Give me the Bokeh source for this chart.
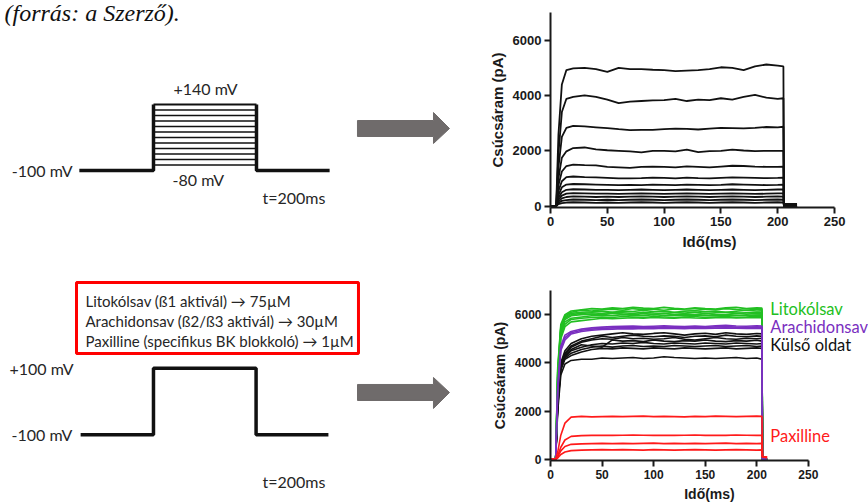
from bokeh.plotting import figure
from bokeh.layouts import row, column
from bokeh.models import Range1d, FixedTicker, BoxAnnotation, ColumnDataSource
from bokeh.core.properties import value
from bokeh.embed import file_html
from bokeh.resources import INLINE

# ---------------- data ----------------
# voltage protocols (ms, mV)
HOLD_MV = -100
TOP_STEPS_MV = [-80, -60, -40, -20, 0, 20, 40, 60, 80, 100, 120, 140]
BOT_STEP_MV = 100
T_ON, T_OFF = 0, 200
TOP_T_PRE, TOP_T_POST = -144, 342
BOT_T_PRE, BOT_T_POST = -142, 341

# top current plot: time (ms) and traces (pA), one per step voltage
T_TOP = [0, 5, 7, 10, 14, 20, 30, 40, 50, 60, 70, 80, 90, 100, 110, 120, 130,
         140, 150, 160, 170, 180, 190, 200, 205, 205.5, 217]
I_P140 = [0, 0, 2600, 4400, 4920, 4980, 5000, 4950, 4850, 5000, 4950, 4950, 4930, 4920, 4880, 4900, 4920,
          4950, 5020, 5000, 4920, 5050, 5120, 5080, 5050, 80, 80]
I_P120 = [0, 0, 1900, 3400, 3880, 3950, 4000, 3950, 3850, 3720, 3780, 3800, 3820, 3830, 3880, 3800, 3850,
          3830, 3900, 3850, 3950, 4020, 3920, 3880, 3900, 60, 60]
I_P100 = [0, 0, 1400, 2500, 2830, 2900, 2880, 2850, 2820, 2780, 2750, 2760, 2760, 2780, 2800, 2790, 2770,
          2800, 2830, 2820, 2810, 2830, 2860, 2850, 2870, 40, 40]
I_P80 = [0, 0, 1000, 1750, 1980, 2100, 2120, 2050, 2020, 2000, 1980, 1940, 2000, 2000, 1980, 2040, 1950,
         1990, 2000, 2040, 2010, 1990, 2000, 2000, 2000, 20, 20]
I_P60 = [0, 0, 750, 1250, 1450, 1500, 1480, 1470, 1420, 1400, 1380, 1420, 1430, 1420, 1400, 1440, 1420,
         1400, 1430, 1460, 1450, 1430, 1420, 1420, 1430, 0, 0]
I_P40 = [0, 0, 550, 900, 1050, 1070, 1050, 1040, 1020, 1000, 1000, 1010, 1030, 1020, 1000, 1030, 1010,
         1000, 1020, 1040, 1030, 1020, 1010, 1020, 1030, 0, 0]
I_P20 = [0, 0, 400, 680, 780, 800, 790, 780, 770, 760, 770, 760, 780, 770, 760, 780, 770,
         760, 770, 790, 780, 770, 760, 770, 780, 0, 0]
I_0 = [0, 0, 300, 500, 590, 610, 600, 590, 590, 580, 590, 600, 590, 580, 590, 600, 590,
       580, 590, 600, 590, 580, 590, 600, 600, 0, 0]
I_M20 = [0, 0, 230, 380, 450, 470, 460, 450, 450, 440, 450, 460, 450, 440, 450, 460, 450,
         440, 450, 460, 450, 440, 450, 460, 460, 0, 0]
I_M40 = [0, 0, 170, 280, 330, 350, 340, 330, 340, 330, 340, 350, 340, 330, 340, 350, 340,
         330, 340, 350, 340, 330, 340, 350, 340, 0, 0]
I_M60 = [0, 0, 120, 190, 220, 240, 230, 220, 230, 220, 230, 240, 230, 220, 230, 240, 230,
         220, 230, 240, 230, 220, 230, 240, 230, 0, 0]
I_M80 = [0, 0, 70, 110, 130, 140, 130, 120, 130, 120, 130, 140, 130, 120, 130, 140, 130,
         120, 130, 140, 130, 120, 130, 140, 130, 0, 0]

# bottom current plot (+100 mV), per condition
T_BOT = [0, 5, 7, 10, 14, 20, 30, 40, 50, 60, 70, 80, 90, 100, 110, 120, 130,
         140, 150, 160, 170, 180, 190, 200, 205, 205.5, 210]
LITO = [
    [0, 0, 3800, 5600, 6000, 6150, 6200, 6250, 6230, 6280, 6250, 6300, 6270, 6250, 6300, 6260, 6230, 6280, 6250, 6230, 6280, 6300, 6250, 6280, 6270, 0, 0],
    [0, 0, 3700, 5500, 5950, 6100, 6180, 6150, 6200, 6220, 6180, 6250, 6200, 6220, 6180, 6230, 6200, 6180, 6220, 6200, 6250, 6210, 6180, 6230, 6220, 0, 0],
    [0, 0, 3600, 5450, 5900, 6050, 6100, 6120, 6150, 6100, 6150, 6130, 6180, 6120, 6150, 6100, 6140, 6160, 6120, 6150, 6100, 6140, 6180, 6150, 6160, 0, 0],
    [0, 0, 3500, 5400, 5850, 6000, 6050, 6080, 6050, 6100, 6080, 6050, 6100, 6070, 6050, 6090, 6060, 6100, 6050, 6080, 6100, 6060, 6080, 6100, 6090, 0, 0],
    [0, 0, 3400, 5300, 5800, 5950, 6000, 6020, 6000, 6050, 6020, 6000, 6040, 6010, 6050, 6000, 6030, 6000, 6040, 6010, 6000, 6050, 6020, 6040, 6030, 0, 0],
    [0, 0, 3300, 5200, 5700, 5850, 5900, 5950, 5980, 5950, 6000, 5970, 5950, 6000, 5960, 5980, 5950, 5990, 5960, 5950, 5990, 5970, 5950, 5980, 5990, 0, 0],
    [0, 0, 3200, 5100, 5600, 5800, 5850, 5880, 5900, 5880, 5920, 5900, 5880, 5920, 5900, 5880, 5900, 5920, 5880, 5900, 5920, 5890, 5900, 5930, 5920, 0, 0],
    [0, 0, 3000, 5000, 5500, 5700, 5750, 5800, 5850, 5830, 5850, 5870, 5850, 5880, 5860, 5850, 5880, 5860, 5850, 5870, 5880, 5860, 5870, 5880, 5870, 0, 0],
]
ARACH = [
    [0, 0, 3000, 4700, 5150, 5300, 5400, 5450, 5480, 5500, 5520, 5530, 5500, 5520, 5540, 5520, 5500, 5530, 5510, 5540, 5560, 5530, 5520, 5540, 5530, 0, 0],
    [0, 0, 2900, 4600, 5050, 5250, 5350, 5400, 5430, 5450, 5470, 5460, 5480, 5470, 5490, 5480, 5460, 5480, 5470, 5490, 5500, 5480, 5470, 5490, 5480, 0, 0],
    [0, 0, 2800, 4500, 4950, 5200, 5300, 5350, 5380, 5400, 5420, 5410, 5430, 5420, 5440, 5430, 5420, 5440, 5430, 5440, 5450, 5440, 5430, 5440, 5430, 0, 0],
]
KULSO = [
    [0, 0, 2500, 4000, 4500, 4800, 5000, 5100, 5150, 5200, 5250, 5200, 5180, 5220, 5250, 5200, 5150, 5200, 5230, 5180, 5250, 5200, 5180, 5220, 5200, 0, 0],
    [0, 0, 2450, 3950, 4400, 4700, 4900, 5000, 5100, 5050, 5100, 5150, 5100, 5080, 5120, 5100, 5050, 5100, 5120, 5080, 5150, 5100, 5080, 5120, 5100, 0, 0],
    [0, 0, 2400, 3900, 4350, 4650, 4850, 4950, 5000, 4980, 5050, 5000, 5020, 4980, 5000, 5050, 4980, 4950, 5000, 5050, 5000, 4980, 5020, 5000, 5020, 0, 0],
    [0, 0, 2350, 3850, 4300, 4550, 4750, 4700, 4650, 4950, 4900, 4920, 4880, 4950, 4900, 4880, 4920, 4900, 4950, 4900, 4880, 4920, 4900, 4940, 4900, 0, 0],
    [0, 0, 2300, 3800, 4250, 4500, 4650, 4750, 4800, 4780, 4820, 4800, 4850, 4800, 4780, 4820, 4800, 4780, 4820, 4800, 4780, 4820, 4800, 4780, 4800, 0, 0],
    [0, 0, 2250, 3750, 4200, 4400, 4550, 4650, 4700, 4650, 4700, 4720, 4680, 4700, 4680, 4720, 4700, 4680, 4700, 4720, 4680, 4700, 4720, 4680, 4700, 0, 0],
    [0, 0, 2200, 3700, 4150, 4300, 4450, 4550, 4600, 4580, 4620, 4600, 4580, 4620, 4600, 4580, 4620, 4600, 4580, 4600, 4620, 4580, 4600, 4620, 4600, 0, 0],
    [0, 0, 2000, 3500, 3950, 4100, 4150, 4150, 4200, 4180, 4200, 4220, 4180, 4200, 4250, 4220, 4200, 4180, 4200, 4180, 4200, 4220, 4180, 4200, 4150, 0, 0],
]
PAXI = [
    [0, 0, 300, 1000, 1500, 1750, 1780, 1760, 1770, 1780, 1770, 1780, 1790, 1770, 1780, 1770, 1760, 1780, 1770, 1790, 1780, 1770, 1780, 1790, 1780, 100, 80],
    [0, 0, 150, 500, 800, 950, 980, 990, 1000, 990, 1000, 1010, 1000, 990, 1000, 990, 1000, 1010, 990, 1000, 990, 1010, 1000, 990, 1000, 100, 80],
    [0, 0, 100, 350, 530, 620, 640, 650, 660, 650, 660, 650, 660, 670, 650, 660, 650, 660, 650, 660, 670, 650, 660, 650, 660, 100, 80],
    [0, 0, 50, 200, 300, 360, 380, 390, 400, 390, 400, 390, 380, 400, 390, 380, 390, 400, 390, 380, 390, 400, 390, 380, 390, 100, 80],
]

X_TICKS = [0, 50, 100, 150, 200, 250]
Y_TICKS = [0, 2000, 4000, 6000]
COND_LABELS = ["Litokólsav", "Arachidonsav", "Külső oldat", "Paxilline"]
COND_LABEL_Y = [6214, 5490, 4760, 970]
COND_COLORS = ["#22bf22", "#7a2fc0", "#111111", "#ff1a1a"]

BOX_LINES = ["Litokólsav (ß1 aktivál) \u2192 75\u00b5M",
             "Arachidonsav (ß2/ß3 aktivál) \u2192 30\u00b5M",
             "Paxilline (specifikus BK blokkoló) \u2192 1\u00b5M"]

TXT = "#262626"
ARROW_GREY = "#6f6b6b"
FONT = value("Lato")

# ---------------- top-left: step protocol ----------------
tl = figure(width=485, height=252, output_backend="svg", toolbar_location=None,
            x_range=Range1d(-297.1, 644.7), y_range=Range1d(-398.2, 518.2),
            x_axis_location=None, y_axis_location=None,
            min_border=0, outline_line_color=None)
tl.xgrid.visible = False
tl.ygrid.visible = False

for lv in TOP_STEPS_MV:
    tl.line([T_ON, T_OFF], [lv, lv], line_color="#111111",
            line_width=2.2 if lv == max(TOP_STEPS_MV) else 1.3)
tl.line([TOP_T_PRE, T_ON, T_ON], [HOLD_MV, HOLD_MV, max(TOP_STEPS_MV)], line_color="#111111", line_width=3.5)
tl.line([T_OFF, T_OFF, TOP_T_POST], [max(TOP_STEPS_MV), HOLD_MV, HOLD_MV], line_color="#111111", line_width=3.5)

tl.text(x=[101], y=[198], text=["+140 mV"], text_font=FONT, text_font_size="16px",
        text_color=TXT, text_align="center", text_baseline="middle")
tl.text(x=[87], y=[-133], text=["-80 mV"], text_font=FONT, text_font_size="16px",
        text_color=TXT, text_align="center", text_baseline="middle")
tl.text(x=[-157], y=[HOLD_MV], text=["-100 mV"], text_font=FONT, text_font_size="16px",
        text_color=TXT, text_align="right", text_baseline="middle")
tl.text(x=[211.7], y=[-198], text=["t=200ms"], text_font=FONT, text_font_size="16px",
        text_color=TXT, text_align="left", text_baseline="middle")
tl.text(x=[-289.3], y=[474], text=["(forrás: a Szerző)."], text_font=value("Liberation Serif"),
        text_font_style="italic", text_font_size="24px", text_color="#111111",
        text_align="left", text_baseline="alphabetic")
tl.patch([396.1, 543.7, 543.7, 574.8, 543.7, 543.7, 396.1],
         [81.8, 81.8, 110.9, 52.7, -1.8, 23.6, 23.6], fill_color=ARROW_GREY, line_color=ARROW_GREY)

# ---------------- bottom-left: single +100 mV step ----------------
bl = figure(width=485, height=252, output_backend="svg", toolbar_location=None,
            x_range=Range1d(-298.2, 647.2), y_range=Range1d(-309.3, 447.4),
            x_axis_location=None, y_axis_location=None,
            min_border=0, outline_line_color=None)
bl.xgrid.visible = False
bl.ygrid.visible = False
bl.line([BOT_T_PRE, T_ON, T_ON, T_OFF, T_OFF, BOT_T_POST],
        [HOLD_MV, HOLD_MV, BOT_STEP_MV, BOT_STEP_MV, HOLD_MV, HOLD_MV],
        line_color="#111111", line_width=3.5)
bl.add_layout(BoxAnnotation(left=-150.1, right=399.6, bottom=144.0, top=357.1,
                            fill_alpha=0, line_color="#ff0000", line_alpha=1, line_width=3))
bl.text(x=[-132.6] * 3, y=[303, 243, 183], text=BOX_LINES, text_font=FONT,
        text_font_size="15px", text_color=TXT, text_align="left", text_baseline="middle")
bl.text(x=[-280.7], y=[BOT_STEP_MV], text=["+100 mV"], text_font=FONT, text_font_size="16px",
        text_color=TXT, text_align="left", text_baseline="middle")
bl.text(x=[-158], y=[HOLD_MV], text=["-100 mV"], text_font=FONT, text_font_size="16px",
        text_color=TXT, text_align="right", text_baseline="middle")
bl.text(x=[212.5], y=[-241], text=["t=200ms"], text_font=FONT, text_font_size="16px",
        text_color=TXT, text_align="left", text_baseline="middle")
bl.patch([397.7, 545.8, 545.8, 577.0, 545.8, 545.8, 397.7],
         [51.1, 51.1, 72.1, 27.0, -20.9, 3.0, 3.0], fill_color=ARROW_GREY, line_color=ARROW_GREY)


# ---------------- right plots ----------------
def style(p, tick_fs, lab_fs):
    for ax in (p.xaxis[0], p.yaxis[0]):
        ax.axis_line_width = 2
        ax.axis_line_color = "#1a1a1a"
        ax.major_tick_line_width = 2
        ax.major_tick_line_color = "#1a1a1a"
        ax.major_tick_out = 6
        ax.major_tick_in = 0
        ax.minor_tick_line_color = None
        ax.major_label_text_font = "Liberation Sans"
        ax.major_label_text_font_style = "bold"
        ax.major_label_text_font_size = tick_fs
        ax.major_label_text_color = "#1a1a1a"
        ax.axis_label_text_font = "Liberation Sans"
        ax.axis_label_text_font_style = "bold"
        ax.axis_label_text_font_size = lab_fs
        ax.axis_label_text_color = "#1a1a1a"
        ax.major_label_standoff = 3
        ax.axis_label_standoff = 4
    p.xaxis.ticker = FixedTicker(ticks=X_TICKS)
    p.yaxis.ticker = FixedTicker(ticks=Y_TICKS)
    p.xaxis.bounds = (0, 250)
    p.xaxis.axis_label = "Idő(ms)"
    p.yaxis.axis_label = "Csúcsáram (pA)"
    p.xgrid.visible = False
    p.ygrid.visible = False
    p.outline_line_color = None


tr = figure(width=383, height=252, output_backend="svg", toolbar_location=None,
            x_range=Range1d(0, 279.9), y_range=Range1d(-50, 7000),
            min_border_left=65, min_border_right=0, min_border_top=12, min_border_bottom=43)
style(tr, "13px", "15px")
top_traces = [I_M80, I_M60, I_M40, I_M20, I_0, I_P20, I_P40, I_P60, I_P80, I_P100, I_P120, I_P140]
tr.multi_line(xs=[T_TOP] * len(top_traces), ys=top_traces, line_color="#111111", line_width=1.8)

br = figure(width=383, height=252, output_backend="svg", toolbar_location=None,
            x_range=Range1d(0, 308.3), y_range=Range1d(-50, 7000),
            min_border_left=59, min_border_right=0, min_border_top=38, min_border_bottom=39)
style(br, "12px", "14px")
for group, col in [(KULSO, COND_COLORS[2]), (LITO, COND_COLORS[0]), (ARACH, COND_COLORS[1]), (PAXI, COND_COLORS[3])]:
    br.multi_line(xs=[T_BOT] * len(group), ys=group, line_color=col, line_width=1.6)
lab_src = ColumnDataSource(dict(x=[213.1] * 4, y=COND_LABEL_Y, text=COND_LABELS, color=COND_COLORS))
br.text(x="x", y="y", text="text", text_color="color", source=lab_src, text_font=FONT,
        text_font_size="16.5px", text_align="left", text_baseline="middle")

layout = row(column(tl, bl), column(tr, br))
open("out.html", "w").write(file_html(layout, INLINE))
